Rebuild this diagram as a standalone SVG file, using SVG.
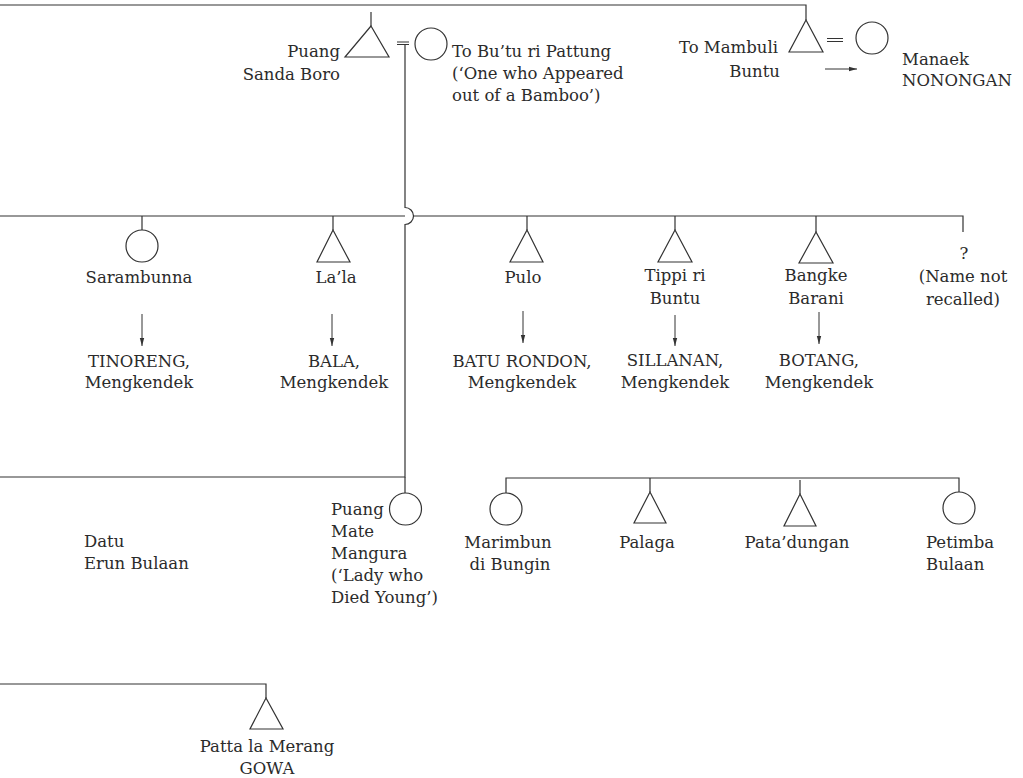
<svg xmlns="http://www.w3.org/2000/svg" width="1023" height="778" viewBox="0 0 1023 778">
  <defs>
    <style>
      .ln { fill: none; stroke: #333; stroke-width: 1.2; }
      .sym { fill: #fff; stroke: #333; stroke-width: 1.2; }
      .arr { fill: none; stroke: #333; stroke-width: 1; marker-end: url(#head); }
      text { font-family: "DejaVu Serif", "Liberation Serif", serif; font-size: 16.5px; fill: #2b2b2b; }
      .m { text-anchor: middle; }
      .e { text-anchor: end; }
    </style>
    <marker id="head" viewBox="0 0 8 6" refX="8" refY="3" markerWidth="8" markerHeight="6" markerUnits="userSpaceOnUse" orient="auto">
      <path d="M0,0.8 L8,3 L0,5.2 Z" fill="#333"/>
    </marker>
  </defs>

  <rect width="1023" height="778" fill="#fff"/>

  <!-- descent lines, marriage bars and arrows -->
  <g id="connectors">
    <path class="ln" d="M0,5 H806 V20"/>
    <path class="ln" d="M371,12 V26"/>
    <path class="ln" d="M397,42 H409 M397,44.5 H409"/>
    <path class="ln" d="M405,44.5 V207.5 A8.5,8.5 0 0 1 405,224.5 V477 H0"/>
    <path class="ln" d="M405,477 V493"/>
    <path class="ln" d="M827,38.5 H843 M827,41.5 H843"/>
    <path class="arr" d="M825,69 H857"/>
    <!-- sibling bar, broken where the descent line hops over -->
    <path class="ln" d="M0,216 H405 M413.5,216 H963 V232"/>
    <path class="ln" d="M142,216 V230 M333,216 V230 M527,216 V230 M675,216 V230 M816,216 V232"/>
    <path class="arr" d="M142,314 V346"/>
    <path class="arr" d="M332,314 V346"/>
    <path class="arr" d="M523,311 V343"/>
    <path class="arr" d="M675,315 V346"/>
    <path class="arr" d="M819,312 V344"/>
    <path class="ln" d="M506,493 V478 H959 V492 M650,478 V492 M800,480 V494"/>
    <path class="ln" d="M0,684 H266 V698"/>
  </g>

  <g id="puang-sanda-boro">
    <polygon class="sym" points="371,26 345,57 389,57"/>
    <text class="e" x="340" y="57">Puang</text>
    <text class="e" x="340" y="80">Sanda Boro</text>
  </g>

  <g id="to-butu-ri-pattung">
    <circle class="sym" cx="431" cy="44" r="16"/>
    <text x="452" y="57">To Bu’tu ri Pattung</text>
    <text x="452" y="79">(‘One who Appeared</text>
    <text x="452" y="101">out of a Bamboo’)</text>
  </g>

  <g id="to-mambuli-buntu">
    <polygon class="sym" points="806,20 789,52 823,52"/>
    <text class="e" x="778" y="53">To Mambuli</text>
    <text class="e" x="780" y="77">Buntu</text>
  </g>

  <g id="manaek">
    <circle class="sym" cx="872" cy="38" r="16"/>
    <text x="902" y="65">Manaek</text>
    <text x="902" y="86">NONONGAN</text>
  </g>

  <g id="sarambunna">
    <circle class="sym" cx="142" cy="246" r="16"/>
    <text class="m" x="139" y="283">Sarambunna</text>
    <text class="m" x="139" y="367">TINORENG,</text>
    <text class="m" x="139" y="388">Mengkendek</text>
  </g>

  <g id="lala">
    <polygon class="sym" points="333,230 317,262 350,262"/>
    <text class="m" x="336" y="283">La’la</text>
    <text class="m" x="334" y="367">BALA,</text>
    <text class="m" x="334" y="388">Mengkendek</text>
  </g>

  <g id="pulo">
    <polygon class="sym" points="527,230 510,262 543,262"/>
    <text class="m" x="523" y="283">Pulo</text>
    <text class="m" x="522" y="367">BATU RONDON,</text>
    <text class="m" x="522" y="388">Mengkendek</text>
  </g>

  <g id="tippi-ri-buntu">
    <polygon class="sym" points="675,230 658,262 692,262"/>
    <text class="m" x="675" y="281">Tippi ri</text>
    <text class="m" x="675" y="304">Buntu</text>
    <text class="m" x="675" y="366">SILLANAN,</text>
    <text class="m" x="675" y="388">Mengkendek</text>
  </g>

  <g id="bangke-barani">
    <polygon class="sym" points="816,232 799,263 833,263"/>
    <text class="m" x="816" y="281">Bangke</text>
    <text class="m" x="816" y="304">Barani</text>
    <text class="m" x="819" y="366">BOTANG,</text>
    <text class="m" x="819" y="388">Mengkendek</text>
  </g>

  <g id="unnamed">
    <text class="m" x="964" y="259">?</text>
    <text class="m" x="963" y="282">(Name not</text>
    <text class="m" x="963" y="305">recalled)</text>
  </g>

  <g id="datu-erun-bulaan">
    <text x="84" y="547">Datu</text>
    <text x="84" y="569">Erun Bulaan</text>
  </g>

  <g id="puang-mate-mangura">
    <circle class="sym" cx="405.5" cy="509" r="16"/>
    <text x="331" y="515">Puang</text>
    <text x="331" y="537">Mate</text>
    <text x="331" y="559">Mangura</text>
    <text x="331" y="581">(‘Lady who</text>
    <text x="331" y="603">Died Young’)</text>
  </g>

  <g id="marimbun-di-bungin">
    <circle class="sym" cx="506" cy="509" r="16"/>
    <text class="m" x="508" y="548">Marimbun</text>
    <text class="m" x="510" y="570">di Bungin</text>
  </g>

  <g id="palaga">
    <polygon class="sym" points="650,492 634,523 666,523"/>
    <text class="m" x="647" y="548">Palaga</text>
  </g>

  <g id="patadungan">
    <polygon class="sym" points="800,494 784,526 816,526"/>
    <text class="m" x="797" y="548">Pata’dungan</text>
  </g>

  <g id="petimba-bulaan">
    <circle class="sym" cx="959" cy="508" r="16"/>
    <text x="926" y="548">Petimba</text>
    <text x="926" y="570">Bulaan</text>
  </g>

  <g id="patta-la-merang">
    <polygon class="sym" points="266,698 250,729 283,729"/>
    <text class="m" x="267" y="752">Patta la Merang</text>
    <text class="m" x="267" y="774">GOWA</text>
  </g>
</svg>
